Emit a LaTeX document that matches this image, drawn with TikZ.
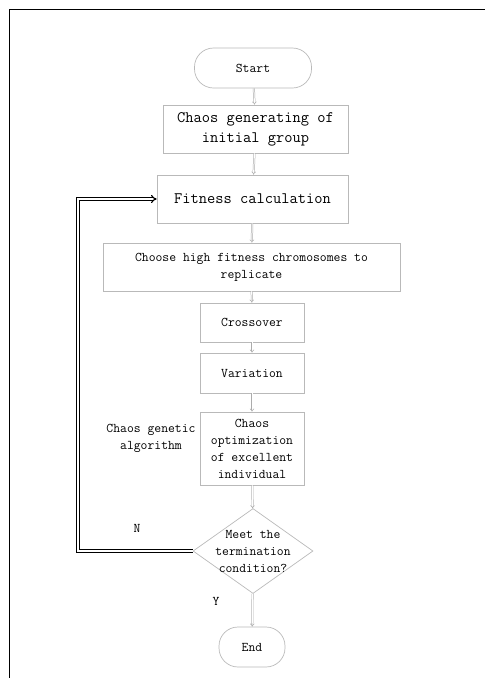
\documentclass[tikz,border=0pt]{standalone}
\usetikzlibrary{shapes.geometric,arrows.meta}

\tikzset{
	box/.style={draw=gray!55, line width=0.7pt, rectangle, inner sep=0pt, align=center, font=\ttfamily\fontsize{13.3}{17}\selectfont},
	bigbox/.style={box, font=\ttfamily\fontsize{16}{20}\selectfont},
	term/.style={box, rounded corners=19pt},
	test/.style={box, diamond},
	lab/.style={font=\ttfamily\fontsize{13.3}{17}\selectfont, align=center},
	flow/.style={draw=gray!65, line width=0.5pt, double=white, double distance=1pt, -{Implies}},
	back/.style={draw=black, line width=1.1pt, double=white, double distance=1.6pt, -{Implies}},
}

\begin{document}
\begin{tikzpicture}[x=1pt, y=-1pt]
	\useasboundingbox (0,0) rectangle (485,678);
	\draw [line width=1pt] (9.5,678) -- (9.5,9.5) -- (485,9.5);

	% main column
	\node[term, minimum width=117pt, minimum height=40pt] (start) at (253,68) {Start};
	\node[bigbox, minimum width=185pt, minimum height=48pt] (gen) at (255.5,129) {Chaos generating of\\initial group};
	\node[bigbox, minimum width=191pt, minimum height=48pt] (fit) at (252.5,199) {Fitness calculation};
	\node[box, minimum width=297pt, minimum height=48pt] (choose) at (251.5,267) {Choose high fitness chromosomes to\\replicate};
	\node[box, minimum width=104pt, minimum height=39pt] (cross) at (252,322.5) {Crossover};
	\node[box, minimum width=104pt, minimum height=40pt] (var) at (252,373) {Variation};
	\node[box, minimum width=104pt, minimum height=73pt] (opt) at (252,448.5) {Chaos\\optimization\\of excellent\\individual};
	\node[test, minimum width=120pt, minimum height=85pt] (meet) at (253,551) {};
	\node[lab] (meettext) at (meet.center) {Meet the\\termination\\condition?};
	\node[term, minimum width=66pt, minimum height=40pt] (end) at (252,647) {End};

	\node[lab] (cga) at (151,438) {Chaos genetic\\algorithm};
	\node[lab] (no) at (137,528) {N};
	\node[lab] (yes) at (216,601) {Y};

	\foreach \a/\b in {start/gen, gen/fit, fit/choose, choose/cross, cross/var, var/opt, opt/meet, meet/end}
		\draw[flow] (\a) -- (\b);

	% loop back
	\coordinate (ret) at (78,551);
	\draw[back] (meet.west) -- (ret) |- (fit.west);
\end{tikzpicture}
\end{document}
